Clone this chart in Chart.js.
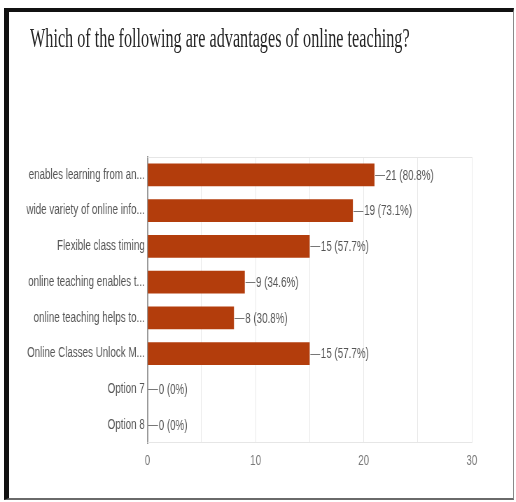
<!DOCTYPE html>
<html lang="en">
<head>
    <meta charset="UTF-8">
    <title>Advantages of online teaching</title>
    <script src="https://cdn.jsdelivr.net/npm/chart.js"></script>
    <style>
        html, body { margin: 0; padding: 0; background: #fff; overflow: hidden; }
        body { width: 516px; height: 502px; position: relative; }
        #frame {
            position: absolute; left: 4px; top: 8px; width: 504px; height: 486px;
            border-left: 5px solid #111; border-top: 4px solid #111;
            border-right: 1px solid #8a8a8a; border-bottom: 2px solid #6a6a6a;
        }
        #title {
            position: absolute; left: 30px; top: 25px; white-space: nowrap;
            font-family: 'Liberation Serif', 'Times New Roman', serif;
            font-size: 27px; line-height: 1; color: #262626;
            transform: scaleX(0.6); transform-origin: left top;
        }
        /* the chart is laid out wide and squeezed horizontally */
        #chartBox {
            position: absolute; left: 0; top: 0; width: 737px; height: 502px;
            transform: scaleX(0.7); transform-origin: left top;
        }
    </style>
</head>
<body>
    <div id="frame"></div>
    <div id="chartBox"><canvas id="bars"></canvas></div>
    <div id="title">Which of the following are advantages of online teaching?</div>

    <script>
        const categories = [
            'enables learning from an...',
            'wide variety of online info...',
            'Flexible class timing',
            'online teaching enables t...',
            'online teaching helps to...',
            'Online Classes Unlock M...',
            'Option 7',
            'Option 8'
        ];
        const counts = [21, 19, 15, 9, 8, 15, 0, 0];
        const respondents = 26;
        const xMax = 30;

        const SX = 0.7;  // horizontal squeeze of #chartBox

        function pct(v) {
            const p = (v / respondents * 100).toFixed(1);
            return (p.endsWith('.0') ? p.slice(0, -2) : p) + '%';
        }

        // dash + "count (percent)" after every bar
        const valueLabels = {
            id: 'valueLabels',
            afterDatasetsDraw(chart) {
                const ctx = chart.ctx;
                const meta = chart.getDatasetMeta(0);
                ctx.save();
                ctx.font = "14px 'Liberation Sans', Arial, sans-serif";
                ctx.textBaseline = 'middle';
                ctx.textAlign = 'left';
                meta.data.forEach((bar, i) => {
                    const x = bar.x + 1;
                    ctx.strokeStyle = '#777';
                    ctx.lineWidth = 1;
                    ctx.beginPath();
                    ctx.moveTo(x, Math.round(bar.y) + 0.5);
                    ctx.lineTo(x + 14, Math.round(bar.y) + 0.5);
                    ctx.stroke();
                    ctx.fillStyle = '#555';
                    ctx.fillText(counts[i] + ' (' + pct(counts[i]) + ')', x + 15, bar.y + 1);
                });
                ctx.restore();
            }
        };

        // light lines along the top and bottom of the plot area
        const plotBox = {
            id: 'plotBox',
            beforeDatasetsDraw(chart) {
                const { ctx, chartArea: a } = chart;
                ctx.save();
                ctx.strokeStyle = '#e6e6e6';
                ctx.lineWidth = 1;
                ctx.beginPath();
                ctx.moveTo(a.left, a.top + 0.5);
                ctx.lineTo(a.right, a.top + 0.5);
                ctx.moveTo(a.left, a.bottom - 0.5);
                ctx.lineTo(a.right, a.bottom - 0.5);
                ctx.stroke();
                ctx.restore();
            }
        };

        Chart.defaults.font.family = "'Liberation Sans', Arial, sans-serif";
        Chart.defaults.font.size = 14;

        new Chart(document.getElementById('bars'), {
            type: 'bar',
            data: {
                labels: categories,
                datasets: [{
                    data: counts,
                    backgroundColor: '#b33d0c',
                    borderWidth: 0,
                    barPercentage: 0.64,
                    categoryPercentage: 1.0
                }]
            },
            options: {
                indexAxis: 'y',
                responsive: true,
                maintainAspectRatio: false,
                animation: false,
                layout: { padding: { top: 157, right: 63, bottom: 0, left: 0 } },
                plugins: {
                    legend: { display: false },
                    tooltip: { enabled: false }
                },
                scales: {
                    x: {
                        min: 0,
                        max: xMax,
                        afterFit: s => { s.height = 59; },
                        ticks: {
                            stepSize: 5,
                            padding: 10,
                            color: '#777',
                            callback: v => (v % 10 === 0 ? String(v) : '')
                        },
                        grid: {
                            drawTicks: false,
                            color: c => (c.tick && c.tick.value === 0 ? 'rgba(0,0,0,0)' : '#e9e9e9')
                        },
                        border: { display: false }
                    },
                    y: {
                        afterFit: s => { s.width = 147.5 / SX; },
                        ticks: { padding: 4, color: '#555' },
                        grid: { display: false, drawTicks: false },
                        border: { display: true, color: '#9a9a9a', width: 2 }
                    }
                }
            },
            plugins: [plotBox, valueLabels]
        });
    </script>
</body>
</html>
